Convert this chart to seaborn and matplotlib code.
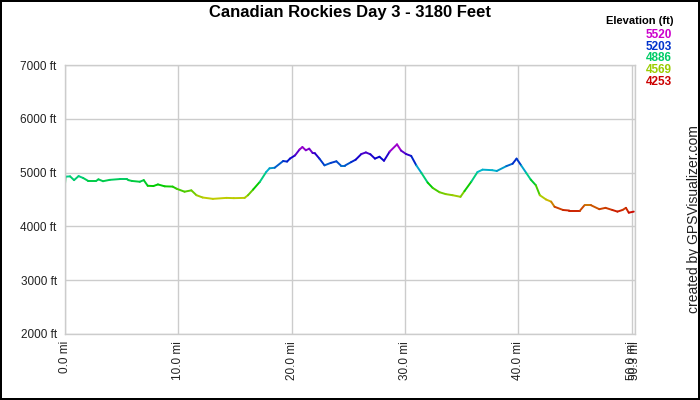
import colorsys
import numpy as np
import pandas as pd
import matplotlib
matplotlib.use("Agg")
import matplotlib.pyplot as plt
import seaborn as sns

# ---- data ----
distance_mi = [0.0, 0.05, 0.45, 0.8, 1.2, 1.6, 2.05, 2.75, 2.95, 3.35, 3.95, 4.85, 5.45, 5.6, 5.9,
               6.6, 6.95, 7.3, 7.8, 8.2, 8.8, 9.5, 9.85, 10.55, 11.15, 11.6, 12.15, 13.05, 14.25,
               14.9, 15.85, 16.15, 16.6, 17.2, 17.75, 18.05, 18.5, 19.25, 19.6, 19.85, 20.3, 20.7,
               20.95, 21.25, 21.55, 21.85, 22.05, 22.45, 22.9, 23.45, 23.95, 24.35, 24.7, 25.25,
               25.65, 26.15, 26.55, 26.95, 27.35, 27.75, 28.15, 28.65, 29.3, 29.65, 30.1, 30.55,
               31.0, 31.45, 32.0, 32.45, 33.05, 33.6, 34.2, 34.9, 35.25, 35.85, 36.4, 36.85, 37.7,
               38.1, 38.95, 39.5, 39.85, 40.25, 40.7, 41.1, 41.55, 41.9, 42.45, 42.9, 43.2, 43.95,
               44.5, 45.45, 45.85, 46.4, 47.15, 47.7, 48.3, 48.75, 49.2, 49.5, 49.75, 50.2]
elevation_ft = [4790, 4925, 4930, 4860, 4935, 4900, 4845, 4845, 4875, 4840, 4865, 4880, 4880, 4860, 4845,
                4830, 4860, 4755, 4750, 4780, 4745, 4740, 4700, 4645, 4670, 4580, 4537, 4512, 4530,
                4525, 4530, 4580, 4685, 4830, 5010, 5080, 5090, 5215, 5205, 5260, 5320, 5430,
                5475, 5415, 5445, 5365, 5360, 5260, 5135, 5180, 5210, 5130, 5130, 5195,
                5240, 5345, 5375, 5340, 5260, 5295, 5220, 5390, 5525, 5410, 5345, 5310,
                5135, 4995, 4815, 4715, 4635, 4600, 4580, 4550, 4655, 4830, 5010, 5055, 5045,
                5030, 5120, 5165, 5260, 5135, 4995, 4870, 4765, 4580, 4500, 4460, 4365, 4305,
                4295, 4295, 4395, 4395, 4320, 4345, 4305, 4275, 4305, 4345, 4255, 4275]

x_ticks = [0, 10, 20, 30, 40, 50, 50.3]
x_tick_labels = ["0.0 mi", "10.0 mi", "20.0 mi", "30.0 mi", "40.0 mi", "50.0 mi", "50.3 mi"]
y_ticks = [2000, 3000, 4000, 5000, 6000, 7000]
y_tick_labels = ["2000 ft", "3000 ft", "4000 ft", "5000 ft", "6000 ft", "7000 ft"]
legend_values = [5520, 5203, 4886, 4569, 4253]
elev_min, elev_max = 4253, 5520
title = "Canadian Rockies Day 3 - 3180 Feet"


def elev_color(e):
    t = (e - elev_min) / (elev_max - elev_min)
    t = min(max(t, 0.0), 1.0)
    return colorsys.hsv_to_rgb(t * 300.0 / 360.0, 1.0, 0.8)


# build segment table (each segment = 2 consecutive points)
rows = []
colors = []
for i in range(len(distance_mi) - 1):
    mid = 0.5 * (elevation_ft[i] + elevation_ft[i + 1])
    colors.append(elev_color(mid))
    for j in (i, i + 1):
        rows.append({"seg": i, "order": j, "dist": distance_mi[j], "elev": elevation_ft[j]})
df = pd.DataFrame(rows)

sns.set_theme(style="white")
plt.rcParams["font.family"] = ["Liberation Sans", "DejaVu Sans"]

fig = plt.figure(figsize=(7, 4), dpi=100)
fig.patch.set_facecolor("white")
ax = fig.add_axes([65 / 700, 1 - 334 / 400, (635 - 65) / 700, (334 - 65) / 400])

sns.lineplot(data=df, x="dist", y="elev", hue="seg", units="seg", estimator=None, sort=False,
             palette=colors, legend=False, linewidth=1.4, ax=ax)

ax.set_xlim(0, 50.3)
ax.set_ylim(2000, 7000)
ax.set_xticks(x_ticks)
ax.set_xticklabels(x_tick_labels, rotation=90, fontsize=8.5, color="#222222")
ax.set_yticks(y_ticks)
ax.set_yticklabels(y_tick_labels, fontsize=8.5, color="#222222")
ax.tick_params(axis="y", length=0, pad=6)
ax.tick_params(axis="x", length=0, pad=5)
ax.set_xlabel("")
ax.set_ylabel("")
ax.grid(True, color="#cccccc", linewidth=1)
ax.set_axisbelow(True)
for s in ax.spines.values():
    s.set_color("#cccccc")
    s.set_linewidth(1)

fig.text(0.5, 1 - 12 / 400, title, ha="center", va="center", fontsize=12, fontweight="bold", color="black")
fig.text(673 / 700, 1 - 21 / 400, "Elevation (ft)", ha="right", va="center", fontsize=8, fontweight="bold", color="black")
for k, v in enumerate(legend_values):
    fig.text(672 / 700, 1 - (35 + 11.7 * k) / 400, str(v), ha="right", va="center", fontsize=8.5,
             fontweight="bold", color=elev_color(v))
fig.text(694 / 700, 1 - 219 / 400, "created by GPSVisualizer.com", rotation=90, ha="center", va="center",
         fontsize=10, color="#222222")

fig.patch.set_edgecolor("black")
fig.patch.set_linewidth(1.5)
fig.savefig("out.png", dpi=100, facecolor=fig.get_facecolor(), edgecolor=fig.get_edgecolor())
